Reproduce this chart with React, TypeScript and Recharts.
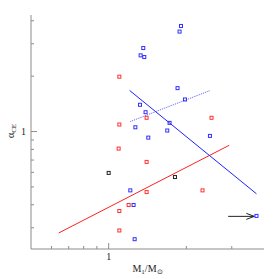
import { ScatterChart, Scatter, XAxis, YAxis, ReferenceLine } from 'recharts'

// log-log axes
const xTicks = [0.6, 0.7, 0.8, 0.9, 1, 2, 3]
const yTicks = [0.3, 0.4, 0.5, 0.6, 0.7, 0.8, 0.9, 1, 2, 3, 4]
const labelledTicks = [1]

const bluePoints = [
  { x: 1.907, y: 3.749 },
  { x: 1.883, y: 3.494 },
  { x: 1.362, y: 2.844 },
  { x: 1.33, y: 2.595 },
  { x: 1.374, y: 2.541 },
  { x: 1.849, y: 1.722 },
  { x: 1.976, y: 1.494 },
  { x: 1.323, y: 1.398 },
  { x: 1.39, y: 1.274 },
  { x: 1.269, y: 1.055 },
  { x: 1.722, y: 1.115 },
  { x: 1.687, y: 1.013 },
  { x: 1.424, y: 0.927 },
  { x: 2.469, y: 0.947 },
  { x: 1.213, y: 0.479 },
  { x: 1.249, y: 0.399 },
  { x: 3.74, y: 0.348 },
  { x: 1.261, y: 0.26 },
]

const redPoints = [
  { x: 1.093, y: 0.808 },
  { x: 1.1, y: 1.987 },
  { x: 1.1, y: 1.092 },
  { x: 1.403, y: 1.188 },
  { x: 2.504, y: 1.188 },
  { x: 1.403, y: 0.684 },
  { x: 1.403, y: 0.469 },
  { x: 2.311, y: 0.479 },
  { x: 1.195, y: 0.399 },
  { x: 1.1, y: 0.37 },
  { x: 1.1, y: 0.29 },
]

const blackPoints = [
  { x: 1.0, y: 0.596 },
  { x: 1.807, y: 0.566 },
]

const blueFit = [{ x: 1.206, y: 1.672 }, { x: 3.74, y: 0.459 }]
const blueDottedFit = [{ x: 1.213, y: 1.134 }, { x: 2.475, y: 1.672 }]
const redFit = [{ x: 0.64, y: 0.281 }, { x: 2.932, y: 0.842 }]
const limitArrow = [{ x: 2.905, y: 0.346 }, { x: 3.67, y: 0.346 }]

const AXIS = '#8c8c8c'
const FONT = 'Liberation Serif'
const tickLen = (v: number) => (v === 1 ? 6 : 3)

const BottomTick = (p: any) => {
  const v = p.payload.value
  return (
    <g>
      <line x1={p.x} x2={p.x} y1={p.y} y2={p.y - tickLen(v)} stroke={AXIS} />
      {labelledTicks.includes(v) && (
        <text x={p.x} y={p.y + 11} textAnchor="middle" fontSize={10} fontFamily={FONT} fill="#222">
          {v}
        </text>
      )}
    </g>
  )
}

const TopTick = (p: any) => (
  <line x1={p.x} x2={p.x} y1={p.y} y2={p.y + tickLen(p.payload.value)} stroke={AXIS} />
)

const LeftTick = (p: any) => {
  const v = p.payload.value
  return (
    <g>
      <line x1={p.x} x2={p.x + tickLen(v)} y1={p.y} y2={p.y} stroke={AXIS} />
      {labelledTicks.includes(v) && (
        <text x={p.x - 5} y={p.y + 3.5} textAnchor="end" fontSize={10} fontFamily={FONT} fill="#222">
          {v}
        </text>
      )}
    </g>
  )
}

const RightTick = (p: any) => (
  <line x1={p.x} x2={p.x - tickLen(p.payload.value)} y1={p.y} y2={p.y} stroke={AXIS} />
)

const square = (color: string) => (p: any) => (
  <rect x={p.cx - 1.5} y={p.cy - 1.5} width={3} height={3} fill="none" stroke={color} strokeWidth={1} />
)

const Arrow = (p: any) => (
  <g stroke="#222" fill="none" strokeWidth={1}>
    <line x1={p.x1} y1={p.y1} x2={p.x2} y2={p.y2} />
    <polyline points={`${p.x2 - 8},${p.y2 - 3} ${p.x2},${p.y2} ${p.x2 - 8},${p.y2 + 3}`} />
  </g>
)

const XLabel = (p: any) => {
  const vb = p.viewBox
  return (
    <text x={vb.x + vb.width / 2} y={vb.y + 23} textAnchor="middle" fontSize={10} fontFamily={FONT} fill="#222">
      M<tspan fontSize={7} dy={2}>1</tspan>
      <tspan dy={-2}>/M</tspan>
      <tspan fontSize={7} dy={2}>⊙</tspan>
    </text>
  )
}

const YLabel = (p: any) => {
  const vb = p.viewBox
  const cx = 14
  const cy = vb.y + vb.height / 2 - 1
  return (
    <text
      x={cx}
      y={cy}
      transform={`rotate(-90 ${cx} ${cy})`}
      textAnchor="middle"
      fontSize={10}
      fontFamily={FONT}
      fill="#222"
    >
      α<tspan fontSize={7} dy={2}>CE</tspan>
    </text>
  )
}

const App = () => {
  return (
    <div style={{ position: 'absolute', left: 0, top: 0, background: '#fff' }}>
      <ScatterChart width={279} height={279} margin={{ top: 15, right: 15, bottom: 0, left: 0 }}>
        <XAxis
          xAxisId="b"
          dataKey="x"
          type="number"
          scale="log"
          domain={[0.5, 4]}
          allowDataOverflow
          ticks={xTicks}
          interval={0}
          height={30}
          tickSize={0}
          tickMargin={0}
          tickLine={false}
          stroke={AXIS}
          tick={BottomTick}
          label={{ content: XLabel }}
        />
        <XAxis
          xAxisId="t"
          orientation="top"
          dataKey="x"
          type="number"
          scale="log"
          domain={[0.5, 4]}
          allowDataOverflow
          ticks={xTicks}
          interval={0}
          height={0}
          tickSize={0}
          tickMargin={0}
          tickLine={false}
          stroke={AXIS}
          tick={TopTick}
        />
        <YAxis
          yAxisId="l"
          dataKey="y"
          type="number"
          scale="log"
          domain={[0.23, 4.3]}
          allowDataOverflow
          ticks={yTicks}
          interval={0}
          width={31}
          tickSize={0}
          tickMargin={0}
          tickLine={false}
          stroke={AXIS}
          tick={LeftTick}
          label={{ content: YLabel }}
        />
        <YAxis
          yAxisId="r"
          orientation="right"
          dataKey="y"
          type="number"
          scale="log"
          domain={[0.23, 4.3]}
          allowDataOverflow
          ticks={yTicks}
          interval={0}
          width={0}
          tickSize={0}
          tickMargin={0}
          tickLine={false}
          stroke={AXIS}
          tick={RightTick}
        />
        <ReferenceLine xAxisId="b" yAxisId="l" segment={redFit} stroke="#ff2020" strokeWidth={1} ifOverflow="visible" />
        <ReferenceLine xAxisId="b" yAxisId="l" segment={blueFit} stroke="#2020ff" strokeWidth={1} ifOverflow="visible" />
        <ReferenceLine
          xAxisId="b"
          yAxisId="l"
          segment={blueDottedFit}
          stroke="#5a5aff"
          strokeWidth={1}
          strokeDasharray="1 1"
          ifOverflow="visible"
        />
        <ReferenceLine xAxisId="b" yAxisId="l" segment={limitArrow} ifOverflow="visible" shape={Arrow} />
        <Scatter xAxisId="b" yAxisId="l" data={redPoints} shape={square('#ff3030')} isAnimationActive={false} />
        <Scatter xAxisId="b" yAxisId="l" data={blackPoints} shape={square('#222')} isAnimationActive={false} />
        <Scatter xAxisId="b" yAxisId="l" data={bluePoints} shape={square('#3030ff')} isAnimationActive={false} />
      </ScatterChart>
    </div>
  )
}

export default App
